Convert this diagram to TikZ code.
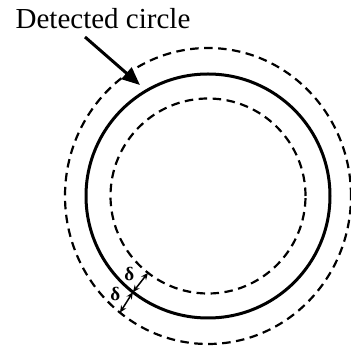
\documentclass[tikz,border=0pt]{standalone}
\usepackage{fontspec}
\setmainfont{Liberation Serif}
\usetikzlibrary{arrows.meta,calc,positioning}
\tikzset{
  ring/.style={line width=3pt},
  band/.style={line width=2.2pt,dash pattern=on 8.5pt off 5.5pt},
  pointer/.style={line width=3pt,-{Triangle[length=18pt,width=15pt]}},
  gap/.style={line width=1.5pt,{Stealth[length=7pt,width=6pt]}-{Stealth[length=7pt,width=6pt]}},
  dlt/.style={font=\fontsize{19}{19}\selectfont\bfseries,inner sep=0pt}
}

\begin{document}
\begin{tikzpicture}[x=1pt,y=1pt]
  \useasboundingbox (0,0) rectangle (351,348);
  \coordinate (c) at (208,152);
  % outer band, detected circle, inner band
  \draw[band] (c) ellipse [x radius=143, y radius=148];
  \draw[ring] (c) circle (122);
  \draw[band] (c) circle (97.5);
  \node[font=\fontsize{29}{31}\selectfont,inner sep=0pt] (label) at (103,329) {Detected circle};
  \coordinate (tail) at (85,311);
  \coordinate (tip) at (140,263);
  \draw[pointer] (tail) -- (tip);
  % tolerance delta either side
  \coordinate (rin) at ($(c)+(232:97.5)$);
  \coordinate (rmid) at ($(c)+(232:122)$);
  \coordinate (rout) at ($(c)+({143*cos(232)},{148*sin(232)})$);
  \draw[gap] (rmid) -- (rin);
  \draw[gap] (rmid) -- (rout);
  \node[dlt] (din) at ($(rmid)!0.5!(rin)+(142:14)$) {δ};
  \node[dlt] (dout) at ($(rmid)!0.5!(rout)+(142:14)$) {δ};
\end{tikzpicture}
\end{document}
